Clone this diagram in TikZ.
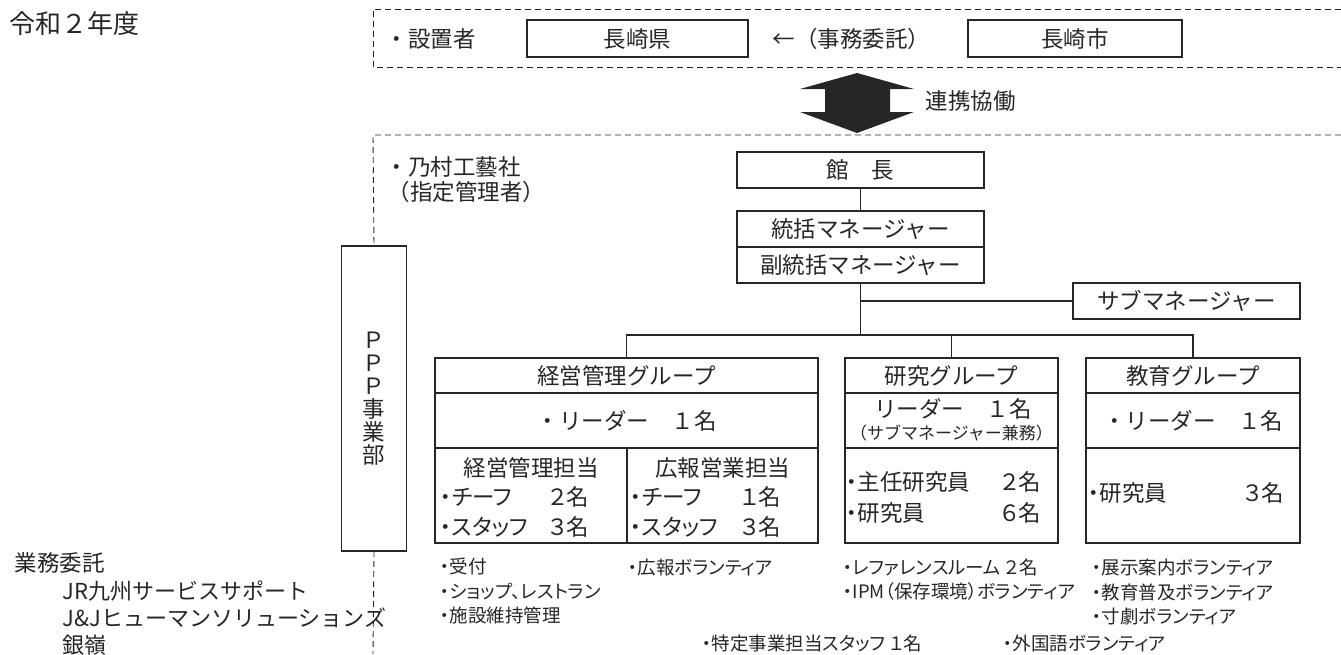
\documentclass[tikz,border=0pt]{standalone}
\usepackage{fontspec}
\setmainfont{Noto Sans CJK JP}
\newfontfamily\notefont{Noto Sans CJK JP}[RawFeature=+palt]
\usetikzlibrary{positioning}

\begin{document}
\begin{tikzpicture}[x=1pt, y=-1pt, line width=1.1pt, color=black!85,
  block/.style={draw, inner sep=0pt, outer sep=0pt, font=\fontsize{22.5}{26}\selectfont},
  txt/.style={inner sep=0pt, font=\fontsize{22.5}{26}\selectfont},
  staff/.style={inner sep=0pt, anchor=west, align=left, font=\notefont\fontsize{22.5}{29.5}\selectfont},
  note/.style={inner sep=0pt, anchor=west, align=left, font=\notefont\fontsize{18.5}{24.5}\selectfont},
  frame/.style={dashed, dash pattern=on 6pt off 4pt, line width=0.9pt}]

  \useasboundingbox (0,0) rectangle (1341,654);

  % Title
  \node[txt, anchor=west, font=\fontsize{26}{30}\selectfont] (title) at (9,24) {令和２年度};

  % Owner row
  \draw[frame] (1341,9) -- (373,9) -- (373,67) -- (1341,67);
  \node[txt, anchor=west] (owner) at (385,38.5) {・設置者};
  \node[block, minimum width=221, minimum height=37] (pref) at (637.5,38.5) {長崎県};
  \node[txt, anchor=west] (entrust) at (772,38.5) {←（事務委託）};
  \node[block, minimum width=214, minimum height=37] (city) at (1075,38.5) {長崎市};

  % Cooperation arrow
  \fill (857,73) -- (914,89) -- (890,89) -- (890,112) -- (914,112) -- (857,133)
    -- (800,112) -- (825,112) -- (825,89) -- (800,89) -- cycle;
  \node[txt, anchor=west] (collab) at (925,101) {連携協働};

  % Manager side
  \node[txt, anchor=west] (nomura) at (385,167) {・乃村工藝社};
  \node[txt, anchor=west] (shitei) at (387,192) {（指定管理者）};
  \node[block, minimum width=65, minimum height=305, align=center,
    font=\fontsize{22.5}{23}\selectfont] (ppp) at (374,398.5) {Ｐ\\Ｐ\\Ｐ\\事\\業\\部};
  \draw[frame] (1341,135) -- (373,135) -- (ppp.north);
  \draw[frame] (ppp.south) -- (373,654);

  % Management line
  \node[block, minimum width=247, minimum height=36] (director) at (860.5,170) {館　長};
  \node[block, minimum width=247, minimum height=36] (gm) at (860.5,229) {統括マネージャー};
  \node[block, minimum width=247, minimum height=36, below=0pt of gm] (subgm) {副統括マネージャー};
  \node[block, minimum width=227, minimum height=36] (submgr) at (1186.5,301) {サブマネージャー};

  % Business group
  \node[block, minimum width=383, minimum height=35] (keieiHead) at (626.5,375.5) {経営管理グループ};
  \node[block, minimum width=383, minimum height=55, below=0pt of keieiHead] (keieiLead) {・リーダー　１名};
  \node[block, minimum width=192, minimum height=95, anchor=north west] (keieiA) at (keieiLead.south west) {};
  \node[block, minimum width=191, minimum height=95, anchor=north east] (keieiB) at (keieiLead.south east) {};
  \node[txt] (keieiAName) at (keieiA.center |- 0,468) {経営管理担当};
  \node[staff, text width=148] (keieiAStaff) at (440,512) {・チーフ\hfill２名\\・スタッフ\hfill３名};
  \node[txt] (keieiBName) at (keieiB.center |- 0,468) {広報営業担当};
  \node[staff, text width=150] (keieiBStaff) at (630,512) {・チーフ\hfill１名\\・スタッフ\hfill３名};

  % Research group
  \node[block, minimum width=213, minimum height=35] (kenkyuHead) at (951.5,375.5) {研究グループ};
  \node[block, minimum width=213, minimum height=55, below=0pt of kenkyuHead] (kenkyuLead) {};
  \node[txt] (kenkyuLeadText) at (953,409) {リーダー　１名};
  \node[txt, font=\fontsize{17}{20}\selectfont] (kenkyuLeadNote) at (951.5,433) {（サブマネージャー兼務）};
  \node[block, minimum width=213, minimum height=95, below=0pt of kenkyuLead] (kenkyuStaff) {};
  \node[staff, text width=194, font=\notefont\fontsize{22.5}{31}\selectfont]
    (kenkyuStaffText) at (846,497.5) {・主任研究員\hfill２名\\・研究員\hfill６名};

  % Education group
  \node[block, minimum width=214, minimum height=35] (kyoikuHead) at (1193,375.5) {教育グループ};
  \node[block, minimum width=214, minimum height=55, below=0pt of kyoikuHead] (kyoikuLead) {・リーダー　１名};
  \node[block, minimum width=214, minimum height=95, below=0pt of kyoikuLead] (kyoikuStaff) {};
  \node[staff, text width=195] (kyoikuStaffText) at (1088,493) {・研究員\hfill３名};

  % Connectors
  \coordinate (bus) at (860.5,335);
  \draw (director) -- (gm);
  \draw (subgm) -- (bus);
  \draw (subgm.south |- submgr.west) -- (submgr);
  \draw (keieiHead.north) |- (bus) -| (kyoikuHead.north);
  \draw (kenkyuHead.north) -- (kenkyuHead.north |- bus);

  % Notes below the groups
  \node[note] (keieiNote) at (440,591) {・受付\\・ショップ、レストラン\\・施設維持管理};
  \node[note] (kohoNote) at (628,567) {・広報ボランティア};
  \node[note] (kenkyuNote) at (843,579.5) {・レファレンスルーム ２名\\・IPM（保存環境）ボランティア};
  \node[note] (kyoikuNote) at (1092,592) {・展示案内ボランティア\\・教育普及ボランティア\\・寸劇ボランティア};
  \node[note] (tokuteiNote) at (702,643) {・特定事業担当スタッフ １名};
  \node[note] (gaikokuNote) at (1003,643) {・外国語ボランティア};

  % Contractors
  \node[txt, anchor=west] (gyomu) at (14,563) {業務委託};
  \node[txt, anchor=west, align=left, font=\fontsize{22}{27}\selectfont] (contractors) at (62,618)
    {JR九州サービスサポート\\J\&Jヒューマンソリューションズ\\銀嶺};

\end{tikzpicture}
\end{document}
